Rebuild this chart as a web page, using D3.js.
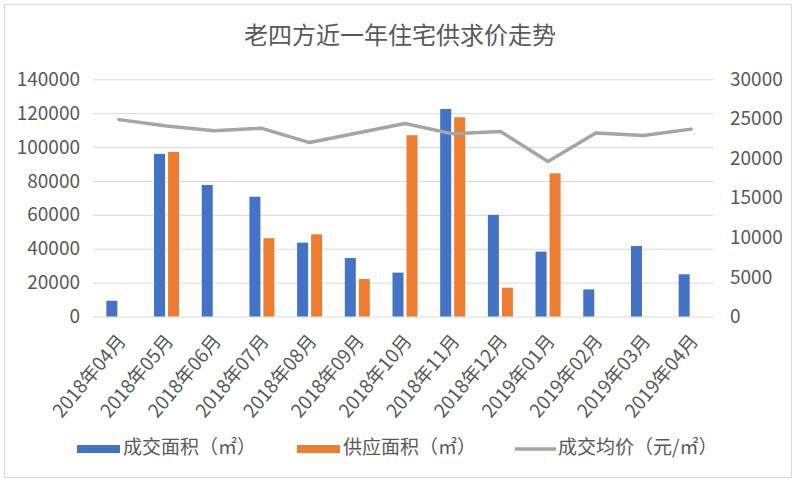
<!DOCTYPE html>
<html>
<head>
<meta charset="utf-8">
<script src="https://cdn.jsdelivr.net/npm/d3@7/dist/d3.min.js"></script>
<style>
  html, body { margin: 0; padding: 0; background: #fff; }
  svg { display: block; font-family: "Noto Sans CJK SC", "Noto Sans", sans-serif; }
</style>
</head>
<body>
<svg id="chart" width="800" height="483"></svg>
<script>
const categories = ["2018年04月","2018年05月","2018年06月","2018年07月","2018年08月","2018年09月","2018年10月","2018年11月","2018年12月","2019年01月","2019年02月","2019年03月","2019年04月"];
const dealArea   = [9300, 96000, 77600, 70700, 43600, 34500, 25900, 122500, 60000, 38300, 16000, 41600, 24900];
const supplyArea = [null, 97100, null, 46200, 48500, 22100, 107000, 117600, 17000, 84500, null, null, null];
const avgPrice   = [24900, 24100, 23500, 23800, 22000, 23200, 24400, 23100, 23400, 19600, 23200, 22900, 23700];
const leftTicks  = [0, 20000, 40000, 60000, 80000, 100000, 120000, 140000];
const rightTicks = [0, 5000, 10000, 15000, 20000, 25000, 30000];
const seriesNames = ["成交面积（㎡）", "供应面积（㎡）", "成交均价（元/㎡）"];
const title = "老四方近一年住宅供求价走势";

const svg = d3.select("#chart");
const textColor = "#595959";
const gridColor = "#d9d9d9";
const fontFam = "'Noto Sans CJK SC', sans-serif";

// outer border
svg.append("rect").attr("x", 4.5).attr("y", 4.5).attr("width", 787).attr("height", 473)
  .attr("fill", "#fff").attr("stroke", gridColor).attr("stroke-width", 1);

// title
svg.append("text").attr("x", 400).attr("y", 37).attr("text-anchor", "middle")
  .attr("dominant-baseline", "middle").attr("font-size", 24).attr("fill", textColor).text(title);

const plotL = 93, plotR = 713;
const x = d3.scaleBand().domain(categories).range([95, 715]).padding(0);
const yL = d3.scaleLinear().domain([0, 140000]).range([316.5, 79.3]);
const yR = d3.scaleLinear().domain([0, 30000]).range([316.5, 79.3]);

// gridlines
const grid = svg.append("g").attr("transform", `translate(${plotL},0)`)
  .call(d3.axisLeft(yL).tickValues(leftTicks).tickSize(-(plotR - plotL)).tickFormat(""));
grid.select(".domain").remove();
grid.selectAll("line").attr("stroke", gridColor).attr("stroke-width", 1);

// left axis labels
const la = svg.append("g").attr("transform", `translate(${plotL},0)`)
  .call(d3.axisLeft(yL).tickValues(leftTicks).tickSize(0).tickPadding(13).tickFormat(d3.format("d")));
la.select(".domain").remove();
la.selectAll("text").attr("font-size", 19).attr("fill", textColor).attr("font-family", fontFam);

// right axis labels
const ra = svg.append("g").attr("transform", `translate(${plotR},0)`)
  .call(d3.axisRight(yR).tickValues(rightTicks).tickSize(0).tickPadding(17).tickFormat(d3.format("d")));
ra.select(".domain").remove();
ra.selectAll("text").attr("font-size", 19).attr("fill", textColor).attr("font-family", fontFam);

// bars
const cx = c => x(c) + x.bandwidth() / 2;
const barW = 11;
svg.append("g").selectAll("rect").data(categories.map((c, i) => ({c, v: dealArea[i]})).filter(d => d.v != null))
  .join("rect")
  .attr("x", d => cx(d.c) - 1.5 - barW).attr("width", barW)
  .attr("y", d => yL(d.v)).attr("height", d => yL(0) - yL(d.v))
  .attr("fill", "#4472c4");
svg.append("g").selectAll("rect").data(categories.map((c, i) => ({c, v: supplyArea[i]})).filter(d => d.v != null))
  .join("rect")
  .attr("x", d => cx(d.c) + 1.5).attr("width", barW)
  .attr("y", d => yL(d.v)).attr("height", d => yL(0) - yL(d.v))
  .attr("fill", "#ed7d31");

// line
const line = d3.line().x((d, i) => cx(categories[i])).y(d => yR(d));
svg.append("path").datum(avgPrice).attr("d", line)
  .attr("fill", "none").attr("stroke", "#a5a5a5").attr("stroke-width", 3.5)
  .attr("stroke-linejoin", "round").attr("stroke-linecap", "round");

// x axis labels
const xa = svg.append("g").attr("transform", "translate(0,316.5)")
  .call(d3.axisBottom(x).tickSize(0).tickPadding(0));
xa.select(".domain").remove();
xa.selectAll("text")
  .attr("font-size", 19).attr("fill", textColor).attr("font-family", fontFam)
  .attr("text-anchor", "end")
  .attr("dy", 0)
  .attr("transform", "translate(8,25) rotate(-50)");

// legend
const legend = svg.append("g");
const legItems = [
  {name: seriesNames[0], type: "rect", color: "#4472c4", x: 77},
  {name: seriesNames[1], type: "rect", color: "#ed7d31", x: 297},
  {name: seriesNames[2], type: "line", color: "#a5a5a5", x: 515}
];
const legY = 449;
legItems.forEach(it => {
  if (it.type === "rect") {
    legend.append("rect").attr("x", it.x).attr("y", legY - 4).attr("width", 43).attr("height", 8).attr("fill", it.color);
  } else {
    legend.append("line").attr("x1", it.x).attr("x2", it.x + 41).attr("y1", legY).attr("y2", legY)
      .attr("stroke", it.color).attr("stroke-width", 3.5);
  }
  legend.append("text").attr("x", it.x + (it.type === "rect" ? 46 : 43)).attr("y", legY)
    .attr("dominant-baseline", "middle").attr("font-size", 19).attr("fill", textColor).text(it.name);
});
</script>
</body>
</html>
